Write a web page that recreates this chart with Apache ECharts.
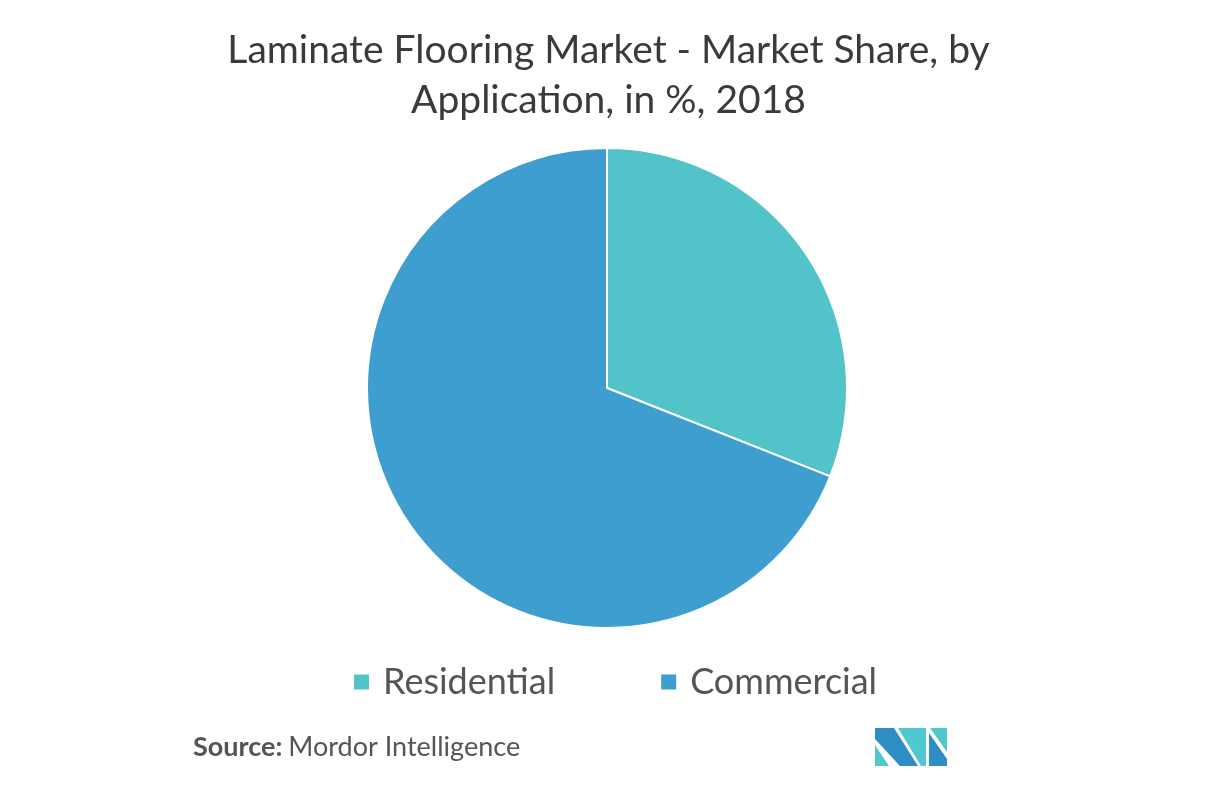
<!DOCTYPE html>
<html>
<head>
<meta charset="utf-8">
<script src="https://cdn.jsdelivr.net/npm/echarts@6/dist/echarts.min.js"></script>
<style>
  html, body { margin: 0; padding: 0; background: #fff; }
  #chart { width: 1217px; height: 786px; }
</style>
</head>
<body>
<div id="chart"></div>
<script>
// data
var categories = ["Residential", "Commercial"];
var shares = [31, 69];
var colors = ["#52c3c9", "#3d9ecf"];

var chart = echarts.init(document.getElementById("chart"));

var pieData = categories.map(function (name, i) {
  return { name: name, value: shares[i], itemStyle: { color: colors[i] } };
});

var option = {
  backgroundColor: "#fff",
  animation: false,
  title: {
    text: "Laminate Flooring Market - Market Share, by\nApplication, in %, 2018",
    left: "center",
    top: 20,
    textStyle: {
      fontFamily: "Lato",
      fontWeight: "normal",
      fontSize: 39,
      lineHeight: 50,
      color: "#3a3a3a"
    }
  },
  legend: {
    data: categories,
    left: 352,
    top: 664,
    padding: 0,
    icon: "rect",
    itemWidth: 17,
    itemHeight: 17,
    itemGap: 104,
    textStyle: {
      fontFamily: "Lato",
      fontSize: 36,
      color: "#555",
      padding: [0, 0, 0, 8]
    }
  },
  series: [
    {
      type: "pie",
      center: [607, 388],
      radius: [0, 240],
      startAngle: 90,
      clockwise: true,
      label: { show: false },
      labelLine: { show: false },
      itemStyle: { borderColor: "#fff", borderWidth: 2 },
      emphasis: { disabled: true },
      data: pieData
    }
  ],
  graphic: [
    {
      type: "text",
      left: 193,
      top: 734,
      style: {
        rich: {
          b: { fontFamily: "Lato", fontWeight: "bold", fontSize: 27, fill: "#555" },
          n: { fontFamily: "Lato", fontSize: 27, fill: "#555", padding: [0, 0, 0, 6] }
        },
        text: "{b|Source:}{n|Mordor Intelligence}"
      }
    },
    // logo
    { type: "polygon", shape: { points: [[875, 745], [875, 766], [889, 766]] }, style: { fill: "#4fc9cf" } },
    { type: "polygon", shape: { points: [[875, 728], [894, 728], [918, 766], [900, 766], [875, 739]] }, style: { fill: "#2e8ec3" } },
    { type: "polygon", shape: { points: [[898, 728], [926, 728], [926, 766], [921, 766]] }, style: { fill: "#4fc9cf" } },
    { type: "polygon", shape: { points: [[930, 728], [947, 728], [947, 752]] }, style: { fill: "#4fc9cf" } },
    { type: "polygon", shape: { points: [[929, 733], [947, 759], [947, 766], [929, 766]] }, style: { fill: "#2e8ec3" } }
  ]
};

chart.setOption(option);
</script>
</body>
</html>
